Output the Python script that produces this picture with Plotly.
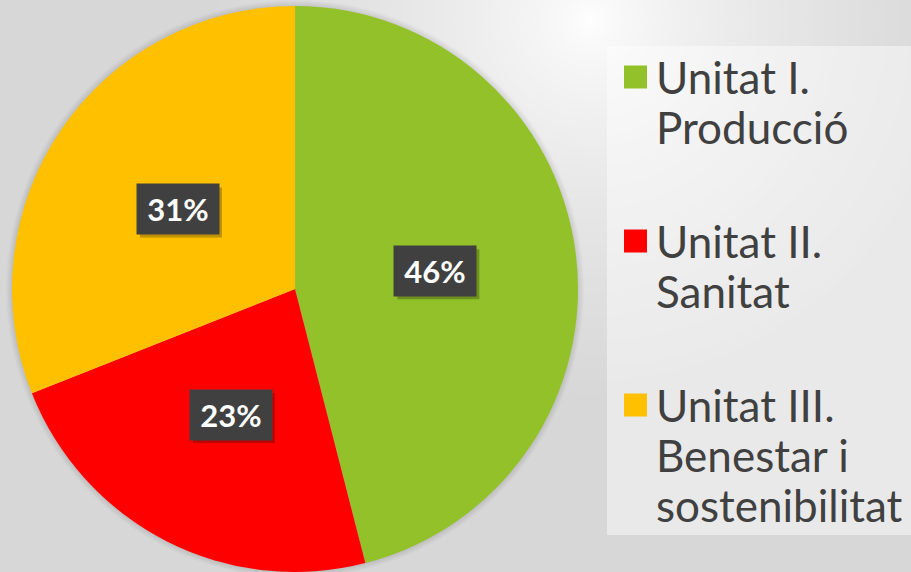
import base64, struct, zlib, math
import numpy as np
import plotly.graph_objects as go

# ---- data ----
labels = ["Unitat I.<br>Producció", "Unitat II.<br>Sanitat", "Unitat III.<br>Benestar i<br>sostenibilitat"]
values = [46, 23, 31]
colors = ["#92C12A", "#FF0000", "#FFC000"]

W, H = 911, 572

# ---- background gradient as png ----
def make_bg():
    yy, xx = np.mgrid[0:H, 0:W].astype(float)
    d = np.sqrt((xx - 590) ** 2 + (yy - 20) ** 2)
    t = np.clip(d / 380.0, 0, 1) ** 0.7
    c = 255 - 40 * t
    arr = np.repeat(c[:, :, None], 3, axis=2).round().astype(np.uint8)
    raw = b"".join(b"\x00" + row.tobytes() for row in arr)
    def chunk(tag, data):
        return struct.pack(">I", len(data)) + tag + data + struct.pack(">I", zlib.crc32(tag + data) & 0xffffffff)
    png = (b"\x89PNG\r\n\x1a\n" + chunk(b"IHDR", struct.pack(">IIBBBBB", W, H, 8, 2, 0, 0, 0))
           + chunk(b"IDAT", zlib.compress(raw, 9)) + chunk(b"IEND", b""))
    return "data:image/png;base64," + base64.b64encode(png).decode()

# pie geometry (px)
cx, cy, R = 295, 289, 283
dom_x = [(cx - R) / W, (cx + R) / W]
dom_y = [0, (H - (cy - R)) / H]

def px(x, y):
    return x / W, 1 - y / H

fig = go.Figure(go.Pie(
    labels=labels, values=values, sort=False, direction="clockwise", rotation=0,
    marker=dict(colors=colors, line=dict(width=0)), textinfo="none",
    showlegend=False, domain=dict(x=dom_x, y=dom_y), hoverinfo="label+percent",
))

shapes = []
# soft shadow around pie
for k in range(1, 7):
    x0, y0 = px(cx - R - k, cy + R + k)
    x1, y1 = px(cx + R + k, cy - R - k)
    shapes.append(dict(type="circle", xref="paper", yref="paper", x0=x0, x1=x1, y0=y0, y1=y1,
                       fillcolor="rgba(0,0,0,0.015)", line=dict(width=0), layer="below"))

# legend box
bx0, by0 = px(607, 535)
bx1, by1 = px(911, 46)
shapes.append(dict(type="rect", xref="paper", yref="paper", x0=bx0, x1=bx1, y0=by0, y1=by1,
                   fillcolor="rgba(255,255,255,0.45)", line=dict(width=0), layer="below"))

annotations = []
# percentage labels
total = sum(values)
cum = 0
BW, BH, PAD = 66, 34, 8
for v in values:
    mid = (cum + v / 2) / total * 2 * math.pi
    cum += v
    lx = cx + 0.5 * R * math.sin(mid)
    ly = cy - 0.5 * R * math.cos(mid)
    txt = f"{round(v / total * 100)}%"
    # drop shadow of label box
    s0 = px(lx - BW / 2 - PAD + 3, ly + BH / 2 + PAD + 3)
    s1 = px(lx + BW / 2 + PAD + 3, ly - BH / 2 - PAD + 3)
    shapes.append(dict(type="rect", xref="paper", yref="paper", x0=s0[0], x1=s1[0], y0=s0[1], y1=s1[1],
                       fillcolor="rgba(0,0,0,0.25)", line=dict(width=0), layer="above"))
    ax, ay = px(lx, ly)
    annotations.append(dict(x=ax, y=ay, xref="paper", yref="paper", text=f"<b>{txt}</b>", showarrow=False,
                            xanchor="center", yanchor="middle",
                            font=dict(family="Lato", size=31, color="white"),
                            bgcolor="#404040", width=BW, height=BH, borderpad=PAD))

# manual legend
line_h = 50
gap = 64
ystart = 77
for lab, col in zip(labels, colors):
    lines = lab.split("<br>")
    sq0 = px(624, ystart + 11.5)
    sq1 = px(647, ystart - 11.5)
    shapes.append(dict(type="rect", xref="paper", yref="paper", x0=sq0[0], x1=sq1[0], y0=sq0[1], y1=sq1[1],
                       fillcolor=col, line=dict(width=0)))
    for i, ln in enumerate(lines):
        tx, ty = px(654, ystart + i * line_h)
        annotations.append(dict(x=tx, y=ty, xref="paper", yref="paper", text=ln, showarrow=False,
                                xanchor="left", yanchor="middle",
                                font=dict(family="Lato", size=44, color="#404040")))
    ystart += len(lines) * line_h + gap

fig.update_layout(
    width=W, height=H, margin=dict(l=0, r=0, t=0, b=0),
    paper_bgcolor="#e0e0e0", plot_bgcolor="#e0e0e0",
    images=[dict(source=make_bg(), xref="paper", yref="paper", x=0, y=1, sizex=1, sizey=1,
                 sizing="stretch", xanchor="left", yanchor="top", layer="below")],
    shapes=shapes, annotations=annotations,
)

fig.write_html("out.html", config={"displayModeBar": False},
               post_script="document.body.style.margin='0';document.body.style.overflow='hidden';")
